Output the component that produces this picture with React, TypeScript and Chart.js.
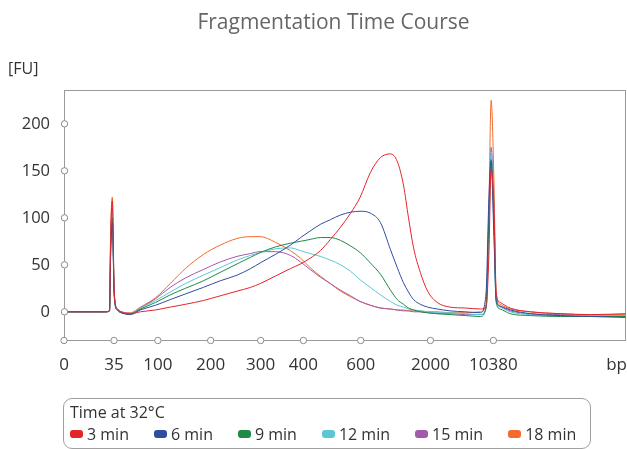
import React, { useEffect, useRef } from 'react';
import { Chart, registerables } from 'chart.js';

Chart.register(...registerables);

const FONT = "'Open Sans', 'Noto Sans', sans-serif";

// Migration time (s) of each sampled point
const migrationTime = [
  30.1, 34.7, 37.4, 38.1, 38.3, 38.6, 38.9, 39.1, 39.5, 40.2,
  41.8, 43.6, 46.3, 48.9, 51.6, 54.8, 57.8, 60.8, 63.2, 64.9,
  67.6, 70.3, 72.1, 73.8, 75.6, 77.4, 79.2, 81.0, 82.7, 84.5,
  86.3, 88.1, 89.3, 90.4, 91.3, 92.2, 93.4, 94.7, 96.4, 98.7,
  101.4, 104.1, 105.1, 105.6, 106.0, 106.5, 106.9, 107.6, 109.4, 113.0,
  118.3, 123.7, 129.9,
];

// Fluorescence [FU] for each time point
const min3 = [
  0, 0, 0, 1, 80, 118, 28, 9, 3, 0,
  -2, 0, 2, 5, 8, 12, 17, 22, 26, 30,
  38, 46, 51, 57, 65, 77, 90, 105, 122, 148,
  164, 168, 160, 135, 100, 68, 42, 22, 10, 5,
  4, 3, 5, 60, 152, 110, 20, 10, 4, 0,
  -2, -3, -2,
];
const min6 = [
  0, 0, 0, 1, 60, 95, 22, 7, 2, -1,
  -3, 2, 7, 13, 19, 26, 33, 39, 46, 52,
  61, 71, 79, 86, 93, 98, 103, 106, 107, 105,
  95, 66, 47, 31, 21, 13, 8, 5, 3, 1,
  0, -1, 20, 120, 160, 80, 12, 6, 2, -2,
  -4, -5, -6,
];
const min9 = [
  0, 0, 0, 1, 65, 100, 24, 8, 2, -1,
  -2, 3, 10, 18, 25, 33, 42, 51, 58, 63,
  69, 73, 75, 77, 79, 79, 76, 70, 63, 52,
  40, 23, 13, 8, 4, 2, 0, -1, -2, -3,
  -4, -5, 5, 100, 162, 90, 10, 3, -2, -4,
  -5, -5, -5,
];
const min12 = [
  0, 0, 0, 1, 70, 105, 25, 8, 2, -1,
  -2, 4, 12, 21, 30, 39, 47, 55, 60, 63,
  67, 68, 65, 62, 59, 55, 50, 43, 34, 26,
  18, 11, 7, 5, 3, 2, 1, 0, -1, -1,
  -2, -3, 3, 80, 170, 100, 14, 5, 0, -3,
  -4, -4, -4,
];
const min15 = [
  0, 0, 0, 1, 75, 110, 27, 9, 3, 0,
  -2, 4, 14, 26, 36, 45, 53, 59, 62, 64,
  64, 60, 53, 45, 37, 30, 23, 17, 11, 7,
  4, 3, 2, 1, 1, 0, 0, -1, -2, -2,
  -3, -3, 4, 90, 175, 110, 16, 6, 1, -2,
  -3, -4, -4,
];
const min18 = [
  0, 0, 0, 2, 85, 122, 30, 10, 3, 0,
  -1, 5, 15, 30, 46, 61, 71, 78, 80, 80,
  74, 65, 57, 47, 38, 30, 22, 16, 11, 7,
  4, 3, 2, 2, 1, 1, 1, 0, 0, -1,
  -1, 0, 8, 110, 225, 140, 20, 8, 3, 0,
  -2, -3, -3,
];

const seriesNames = ['3 min', '6 min', '9 min', '12 min', '15 min', '18 min'];
const seriesColors = ['#e3242b', '#2f4da0', '#1e8a46', '#5cc6d6', '#a25aa9', '#f36a2c'];
const seriesValues = [min3, min6, min9, min12, min15, min18];

const xTickTimes = [30, 38.9, 46.7, 56.1, 65.0, 72.6, 82.8, 95.2, 106.4, 130];
const xTickLabels = ['0', '35', '100', '200', '300', '400', '600', '2000', '10380', 'bp'];
const yTickValues = [0, 50, 100, 150, 200];

const chartTitle = 'Fragmentation Time Course';
const yUnit = '[FU]';
const legendTitle = 'Time at 32°C';

const framePlugin = {
  id: 'frame',
  beforeDatasetsDraw(chart: any) {
    const { ctx, chartArea } = chart;
    ctx.save();
    ctx.strokeStyle = '#9a9a9a';
    ctx.lineWidth = 1;
    ctx.strokeRect(
      Math.round(chartArea.left) + 0.5,
      Math.round(chartArea.top) + 0.5,
      Math.round(chartArea.right - chartArea.left) - 1,
      Math.round(chartArea.bottom - chartArea.top)
    );
    ctx.restore();
  },
  afterDraw(chart: any) {
    const { ctx, chartArea, scales } = chart;
    const xs = scales.x;
    const ys = scales.y;
    ctx.save();
    ctx.strokeStyle = '#8a8a8a';
    ctx.fillStyle = '#ffffff';
    ctx.lineWidth = 1;
    const dot = (px: number, py: number) => {
      ctx.beginPath();
      ctx.arc(px, py, 3.2, 0, Math.PI * 2);
      ctx.fill();
      ctx.stroke();
    };
    yTickValues.forEach((v) => dot(Math.round(chartArea.left) + 0.5, ys.getPixelForValue(v)));
    xTickTimes.slice(0, -1).forEach((t) => dot(xs.getPixelForValue(t), Math.round(chartArea.bottom) + 0.5));
    // last x label (unit) kept inside the canvas, right-aligned
    ctx.fillStyle = '#333333';
    ctx.font = `17px ${FONT}`;
    ctx.textAlign = 'right';
    ctx.textBaseline = 'middle';
    ctx.fillText(xTickLabels[xTickLabels.length - 1], chartArea.right + 1, xs.top + 15 + 10);
    ctx.restore();
  },
};

export default function App() {
  const canvasRef = useRef<HTMLCanvasElement | null>(null);

  useEffect(() => {
    if (!canvasRef.current) return;
    const chart = new Chart(canvasRef.current, {
      type: 'line',
      data: {
        datasets: seriesNames.map((name, i) => ({
          label: name,
          data: migrationTime.map((t, j) => ({ x: t, y: seriesValues[i][j] })),
          borderColor: seriesColors[i],
          backgroundColor: seriesColors[i],
          borderWidth: 1,
          pointRadius: 0,
          cubicInterpolationMode: 'monotone',
          fill: false,
        })),
      },
      options: {
        responsive: false,
        animation: false,
        devicePixelRatio: 1,
        layout: { padding: { top: 90, right: 1, bottom: 0, left: 0 } },
        plugins: {
          legend: { display: false },
          title: { display: false },
          tooltip: { enabled: false },
        },
        scales: {
          x: {
            type: 'linear',
            min: 30,
            max: 130,
            grid: { display: false, drawTicks: false },
            border: { display: false },
            afterBuildTicks: (scale: any) => {
              scale.ticks = xTickTimes.map((v) => ({ value: v }));
            },
            afterFit: (scale: any) => {
              scale.height = 109;
              scale.paddingLeft = 0;
              scale.paddingRight = 0;
            },
            ticks: {
              autoSkip: false,
              maxRotation: 0,
              padding: 15,
              color: '#333333',
              font: { size: 17, family: FONT },
              callback: (_v: any, i: number) => (i === xTickLabels.length - 1 ? '' : xTickLabels[i]),
            },
          },
          y: {
            type: 'linear',
            min: -30,
            max: 236,
            grid: { display: false, drawTicks: false },
            border: { display: false },
            afterBuildTicks: (scale: any) => {
              scale.ticks = yTickValues.map((v) => ({ value: v }));
            },
            afterFit: (scale: any) => {
              scale.width = 64;
              scale.paddingTop = 0;
              scale.paddingBottom = 0;
            },
            ticks: {
              padding: 14,
              color: '#333333',
              font: { size: 16.5, family: FONT },
              callback: (v: any) => String(v),
            },
          },
        },
      },
      plugins: [framePlugin],
    } as any);
    return () => chart.destroy();
  }, []);

  return (
    <div style={{ position: 'absolute', left: 0, top: 0, width: 627, height: 449, fontFamily: FONT, color: '#333' }}>
      <canvas ref={canvasRef} width={627} height={449} style={{ position: 'absolute', left: 0, top: 0 }} />
      <div
        style={{
          position: 'absolute', left: 40, top: 8, width: 587, textAlign: 'center',
          fontSize: 21, lineHeight: '26px', color: '#666',
        }}
      >
        {chartTitle}
      </div>
      <div style={{ position: 'absolute', left: 8, top: 57, fontSize: 16, lineHeight: '22px', color: '#333' }}>
        {yUnit}
      </div>
      <div
        style={{
          position: 'absolute', left: 63, top: 398, width: 528, height: 51, boxSizing: 'border-box',
          border: '1px solid #a0a0a0', borderRadius: 9, padding: '2px 0 0 6px', fontSize: 16, color: '#333',
        }}
      >
        <div style={{ lineHeight: '22px' }}>{legendTitle}</div>
        <div style={{ display: 'flex', gap: 25, lineHeight: '22px', alignItems: 'center' }}>
          {seriesNames.map((n, i) => (
            <div key={n} style={{ display: 'flex', alignItems: 'center' }}>
              <span
                style={{
                  display: 'inline-block', width: 13, height: 8, borderRadius: 3,
                  background: seriesColors[i], marginRight: 4,
                }}
              />
              <span>{n}</span>
            </div>
          ))}
        </div>
      </div>
    </div>
  );
}
